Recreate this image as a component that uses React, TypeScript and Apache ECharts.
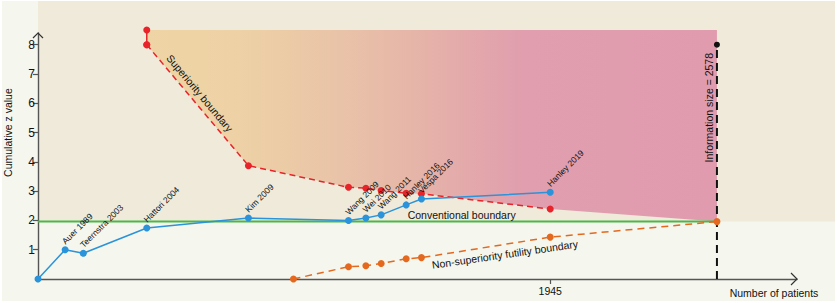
import React, { useEffect, useRef } from 'react';
import * as echarts from 'echarts';

// ---- data ----
const studies = ['', 'Auer 1989', 'Teernstra 2003', 'Hattori 2004', 'Kim 2009', 'Wang 2009', 'Wei 2010', 'Wang 2011', 'Hanley 2016', 'Vespa 2016', 'Hanley 2019'];
const patients = [0, 103, 172, 413, 799, 1179, 1245, 1303, 1398, 1456, 1945];
const cumulativeZ = [0, 1.0, 0.88, 1.74, 2.08, 2.0, 2.08, 2.19, 2.53, 2.73, 2.96];

const superiorityN = [413, 413, 799, 1179, 1245, 1303, 1398, 1456, 1945];
const superiorityZ = [8.5, 8.0, 3.87, 3.13, 3.1, 3.02, 2.93, 2.91, 2.39];

const futilityN = [970, 1179, 1245, 1303, 1398, 1456, 1945, 2578];
const futilityZ = [0, 0.42, 0.45, 0.53, 0.69, 0.73, 1.43, 1.96];

const informationSize = 2578;
const conventionalZ = 1.96;
const xTickValues = [1945];
const yTickValues = [1, 2, 3, 4, 5, 6, 7, 8];
const xMax = 2882;
const yMax = 8.4;

const FONT = '"Liberation Sans", Arial, Helvetica, sans-serif';
const BLUE = '#2a93d9';
const RED = '#e8232a';
const ORANGE = '#e4691f';
const GREEN = '#4cb748';
const AXIS = '#555';
const TEXT = '#111';

export default function App() {
  const ref = useRef<HTMLDivElement>(null);

  useEffect(() => {
    const chart = echarts.init(ref.current!, undefined, { renderer: 'svg' });

    const option: any = {
      animation: false,
      textStyle: { fontFamily: FONT },
      grid: { left: 38, right: 40, top: 33, bottom: 24, outerBoundsMode: 'none' },
      xAxis: {
        type: 'value',
        min: 0,
        max: xMax,
        splitLine: { show: false },
        axisLine: { show: true, lineStyle: { color: AXIS, width: 1.4 } },
        axisTick: { show: true, customValues: xTickValues, length: 5, lineStyle: { color: AXIS, width: 1.2 } },
        axisLabel: {
          customValues: xTickValues,
          fontSize: 10.5,
          color: TEXT,
          margin: 6,
          fontFamily: FONT,
          formatter: (v: number) => String(v),
        },
      },
      yAxis: {
        type: 'value',
        min: 0,
        max: yMax,
        splitLine: { show: false },
        axisLine: { show: true, lineStyle: { color: AXIS, width: 1.4 } },
        axisTick: { show: true, customValues: yTickValues, length: 5, lineStyle: { color: AXIS, width: 1.2 } },
        axisLabel: {
          customValues: yTickValues,
          fontSize: 12,
          color: TEXT,
          margin: 3,
          fontFamily: FONT,
          formatter: (v: number) => String(v),
        },
      },
      series: [
        // background panels
        {
          type: 'custom',
          z: -10,
          silent: true,
          clip: false,
          data: [[0, conventionalZ]],
          renderItem: (_p: any, api: any) => {
            const W = api.getWidth();
            const H = api.getHeight();
            const c = api.coord([0, conventionalZ]);
            return {
              type: 'group',
              children: [
                { type: 'rect', shape: { x: 2, y: 1, width: W - 4, height: H - 3 }, style: { fill: '#f5f6ee' } },
                { type: 'rect', shape: { x: c[0], y: 1, width: W - 2 - c[0], height: c[1] - 1 }, style: { fill: '#efeada' } },
              ],
            };
          },
        },
        // shaded superiority region
        {
          type: 'custom',
          z: -5,
          silent: true,
          clip: false,
          data: [[informationSize, superiorityZ[0]]],
          renderItem: (_p: any, api: any) => {
            const pts: number[][] = [];
            pts.push(api.coord([superiorityN[0], superiorityZ[0]]));
            pts.push(api.coord([informationSize, superiorityZ[0]]));
            pts.push(api.coord([informationSize, conventionalZ]));
            for (let i = superiorityN.length - 1; i >= 1; i--) {
              pts.push(api.coord([superiorityN[i], superiorityZ[i]]));
            }
            return {
              type: 'polygon',
              shape: { points: pts },
              style: {
                fill: new echarts.graphic.LinearGradient(0, 0, 1, 0, [
                  { offset: 0, color: '#eed5a5' },
                  { offset: 0.15, color: '#eed2a5' },
                  { offset: 0.34, color: '#e9c3a8' },
                  { offset: 0.46, color: '#e6b6a8' },
                  { offset: 0.57, color: '#e3a8ab' },
                  { offset: 0.66, color: '#e09eae' },
                  { offset: 1, color: '#e09cae' },
                ]),
              },
            };
          },
        },
        // conventional boundary
        {
          type: 'line',
          silent: true,
          z: 2,
          data: [[0, conventionalZ], [informationSize, conventionalZ]],
          symbol: 'none',
          lineStyle: { color: GREEN, width: 2 },
        },
        // information size line
        {
          type: 'line',
          silent: true,
          z: 3,
          clip: false,
          data: [
            { value: [informationSize, 0], symbol: 'none' },
            { value: [informationSize, superiorityZ[1]] },
          ],
          symbol: 'circle',
          symbolSize: 6,
          itemStyle: { color: '#111' },
          lineStyle: { color: '#111', width: 2, type: [8, 5] },
        },
        // superiority boundary (solid start)
        {
          type: 'line',
          silent: true,
          z: 4,
          clip: false,
          data: [[superiorityN[0], superiorityZ[0]], [superiorityN[1], superiorityZ[1]]],
          symbol: 'circle',
          symbolSize: 7,
          itemStyle: { color: RED },
          lineStyle: { color: RED, width: 1.5 },
        },
        // superiority boundary (dashed)
        {
          type: 'line',
          silent: true,
          z: 4,
          clip: false,
          data: superiorityN.slice(1).map((n, i) => [n, superiorityZ[i + 1]]),
          symbol: 'circle',
          symbolSize: 7,
          showAllSymbol: true,
          itemStyle: { color: RED },
          lineStyle: { color: RED, width: 1.5, type: [6, 4] },
        },
        // futility boundary
        {
          type: 'line',
          silent: true,
          z: 5,
          clip: false,
          data: futilityN.map((n, i) => [n, futilityZ[i]]),
          symbol: 'circle',
          symbolSize: 7,
          showAllSymbol: true,
          itemStyle: { color: ORANGE },
          lineStyle: { color: ORANGE, width: 1.5, type: [7, 5] },
        },
        // cumulative z
        {
          type: 'line',
          silent: true,
          z: 6,
          clip: false,
          data: patients.map((n, i) => [n, cumulativeZ[i]]),
          symbol: 'circle',
          symbolSize: 7,
          showAllSymbol: true,
          itemStyle: { color: BLUE },
          lineStyle: { color: BLUE, width: 1.5 },
        },
        // study labels
        {
          type: 'custom',
          z: 7,
          silent: true,
          clip: false,
          data: patients.map((n, i) => [n, cumulativeZ[i]]),
          renderItem: (params: any, api: any) => {
            const name = studies[params.dataIndex];
            if (!name) return null;
            const p = api.coord([api.value(0), api.value(1)]);
            return {
              type: 'text',
              x: p[0] + 1.5,
              y: p[1] - 4,
              rotation: Math.PI / 4,
              style: { text: name, fontSize: 8.5, fontFamily: FONT, fill: TEXT, align: 'left', verticalAlign: 'bottom' },
            };
          },
        },
        // annotations + axis arrows
        {
          type: 'custom',
          z: 8,
          silent: true,
          clip: false,
          data: [[0, 0]],
          renderItem: (_p: any, api: any) => {
            const a = api.coord([superiorityN[1], superiorityZ[1]]);
            const b = api.coord([superiorityN[2], superiorityZ[2]]);
            const sAng = Math.atan2(b[1] - a[1], b[0] - a[0]);
            const sx = a[0] + (b[0] - a[0]) * 0.45 + Math.sin(sAng) * 9.6;
            const sy = a[1] + (b[1] - a[1]) * 0.45 - Math.cos(sAng) * 9.6;

            const fa = api.coord([futilityN[1], futilityZ[1]]);
            const fb = api.coord([futilityN[6], futilityZ[6]]);
            const fAng = Math.atan2(fb[1] - fa[1], fb[0] - fa[0]);
            const fx = fa[0] + (fb[0] - fa[0]) * 0.768 - Math.sin(fAng) * 10.8;
            const fy = fa[1] + (fb[1] - fa[1]) * 0.768 + Math.cos(fAng) * 10.8;

            const g0 = api.coord([0, conventionalZ]);
            const g1 = api.coord([informationSize, conventionalZ]);
            const cx = g0[0] + (g1[0] - g0[0]) * 0.624;

            const info = api.coord([informationSize, 5.85]);
            const yName = api.coord([0, 5]);
            const xEnd = api.coord([xMax, 0]);
            const yEnd = api.coord([0, yMax]);

            const txt = (x: number, y: number, text: string, rotation: number, size = 10.5) => ({
              type: 'text',
              x,
              y,
              rotation,
              style: { text, fontSize: size, fontFamily: FONT, fill: TEXT, align: 'center', verticalAlign: 'middle' },
            });

            return {
              type: 'group',
              children: [
                txt(sx, sy, 'Superiority boundary', -sAng),
                txt(fx, fy, 'Non-superiority futility boundary', -fAng),
                txt(cx, g0[1] - 6.5, 'Conventional boundary', 0),
                txt(info[0] - 8, info[1], 'Information size = 2578', Math.PI / 2),
                txt(yName[0] - 30, yName[1], 'Cumulative z value', Math.PI / 2),
                txt(xEnd[0] - 23, xEnd[1] + 14, 'Number of patients', 0),
                {
                  type: 'polyline',
                  shape: { points: [[yEnd[0] - 5, yEnd[1] + 5], [yEnd[0], yEnd[1]], [yEnd[0] + 5, yEnd[1] + 5]] },
                  style: { stroke: '#333', lineWidth: 1.2, fill: null },
                },
                {
                  type: 'polyline',
                  shape: { points: [[xEnd[0] - 6, xEnd[1] - 6], [xEnd[0], xEnd[1]], [xEnd[0] - 6, xEnd[1] + 6]] },
                  style: { stroke: '#333', lineWidth: 1.2, fill: null },
                },
              ],
            };
          },
        },
      ],
    };

    chart.setOption(option);
    return () => chart.dispose();
  }, []);

  return (
    <div
      ref={ref}
      style={{ position: 'absolute', left: 0, top: 0, width: 837, height: 303, background: '#fff' }}
    />
  );
}
